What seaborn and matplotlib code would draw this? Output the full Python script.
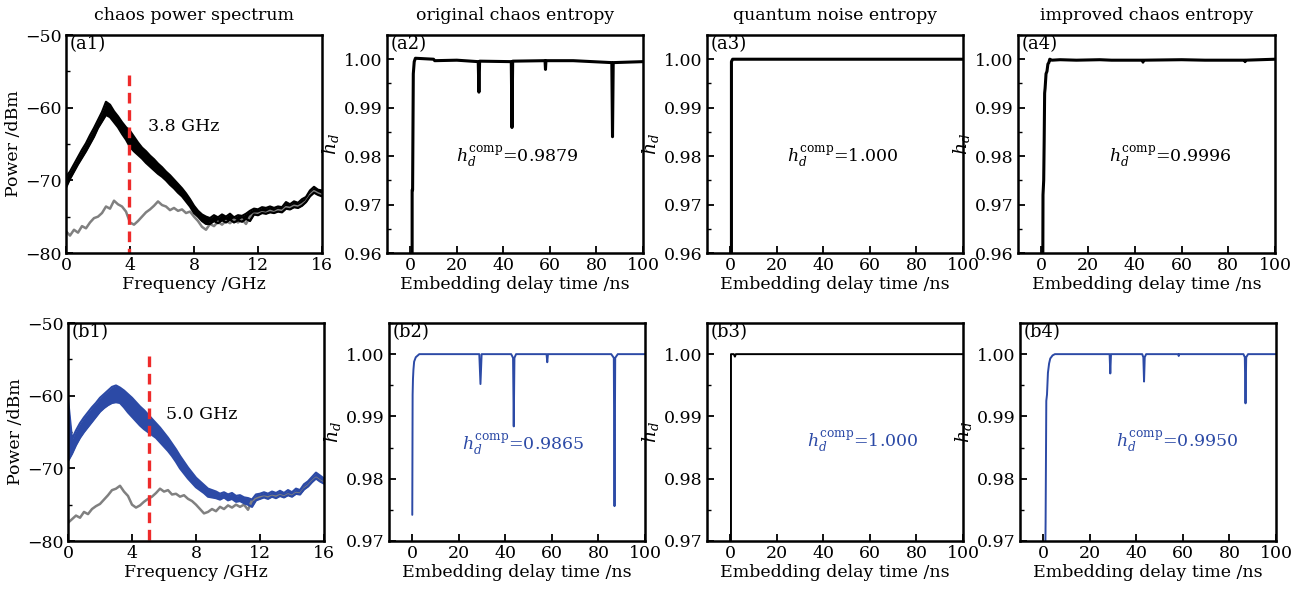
import numpy as np
import matplotlib
matplotlib.use("Agg")
import matplotlib.pyplot as plt
from matplotlib.ticker import MultipleLocator
import seaborn as sns

# ---------------- data ----------------
freq = [0, 0.25, 0.5, 0.75, 1.0, 1.25, 1.5, 1.75, 2.0, 2.25, 2.5, 2.75, 3.0, 3.25, 3.5, 3.75,
        4.0, 4.25, 4.5, 4.75, 5.0, 5.25, 5.5, 5.75, 6.0, 6.25, 6.5, 6.75, 7.0, 7.25, 7.5, 7.75,
        8.0, 8.25, 8.5, 8.75, 9.0, 9.25, 9.5, 9.75, 10.0, 10.25, 10.5, 10.75, 11.0, 11.25, 11.5, 11.75,
        12.0, 12.25, 12.5, 12.75, 13.0, 13.25, 13.5, 13.75, 14.0, 14.25, 14.5, 14.75, 15.0, 15.25, 15.5, 15.75, 16.0]

# (a1) original chaos spectrum: upper / lower envelope of the thick black trace
a1_upper = [-69.5, -68.8, -67.8, -66.8, -65.8, -64.9, -63.8, -62.8, -61.7, -60.6, -59.2, -59.6, -60.5, -61.2, -62.0, -62.7,
            -63.2, -64.0, -64.8, -65.5, -66.0, -66.6, -67.1, -67.7, -68.2, -68.8, -69.3, -69.9, -70.5, -71.1, -71.8, -72.6,
            -73.5, -74.2, -74.7, -75.0, -75.2, -74.8, -75.1, -74.7, -75.0, -74.6, -75.1, -74.8, -74.9, -74.6, -74.2, -73.9,
            -74.0, -73.7, -73.8, -73.6, -73.8, -73.6, -73.7, -73.0, -73.3, -72.9, -73.1, -72.6, -72.3, -71.4, -70.9, -71.3, -71.4]
a1_lower = [-71.0, -69.8, -68.8, -67.8, -66.9, -66.0, -65.0, -64.0, -62.8, -61.9, -61.0, -61.3, -62.0, -62.7, -63.6, -64.4,
            -65.4, -66.0, -66.5, -67.0, -67.6, -68.1, -68.6, -69.1, -69.5, -70.0, -70.6, -71.1, -71.7, -72.2, -72.9, -73.6,
            -74.5, -75.0, -75.6, -76.0, -76.0, -75.6, -75.9, -75.5, -75.8, -75.4, -75.8, -75.5, -75.7, -75.3, -75.6, -74.7,
            -74.8, -74.5, -74.6, -74.4, -74.5, -74.3, -74.4, -73.9, -74.0, -73.7, -73.8, -73.5, -73.0, -72.2, -71.7, -72.0, -72.2]
# (a1) noise-floor (grey) trace
a1_noise = [-77.0, -77.6, -76.8, -77.2, -76.3, -76.6, -75.8, -75.2, -75.0, -74.5, -73.6, -73.9, -72.8, -73.3, -73.6, -74.3,
            -75.8, -76.1, -75.6, -75.0, -74.4, -74.0, -73.5, -72.9, -73.4, -73.6, -74.1, -73.8, -74.2, -74.0, -74.5, -74.3,
            -75.0, -75.6, -76.4, -76.8, -76.0, -76.3, -75.7, -76.1, -75.6, -75.9, -75.4, -75.8, -75.4, -76.0, -75.0, -74.6,
            -74.6, -74.4, -74.5, -74.2, -74.4, -74.1, -74.2, -73.7, -73.8, -73.5, -73.6, -73.3, -72.9, -72.0, -71.5, -71.8, -72.0]

# (b1) improved chaos spectrum (blue band)
b1_upper = [-60.5, -66.0, -64.8, -63.8, -63.0, -62.3, -61.6, -61.0, -60.3, -59.8, -59.3, -58.8, -58.6, -58.9, -59.3, -59.8,
            -60.3, -60.9, -61.5, -62.0, -62.6, -63.2, -63.8, -64.4, -65.1, -65.8, -66.6, -67.4, -68.3, -69.1, -69.9, -70.6,
            -71.3, -71.8, -72.3, -72.8, -73.0, -73.2, -73.5, -73.3, -73.6, -73.4, -73.8, -73.7, -74.0, -74.1, -74.3, -73.6,
            -73.5, -73.3, -73.5, -73.2, -73.4, -73.1, -73.4, -73.0, -73.3, -72.8, -73.0, -72.2, -71.8, -71.2, -70.6, -71.0, -71.4]
b1_lower = [-69.0, -68.0, -66.8, -65.8, -65.0, -64.3, -63.6, -62.9, -62.2, -61.7, -61.3, -61.0, -60.9, -61.0, -61.6, -62.3,
            -62.9, -63.5, -64.1, -64.6, -65.0, -65.4, -65.8, -66.4, -67.0, -67.6, -68.3, -69.1, -70.0, -70.7, -71.4, -72.0,
            -72.6, -73.0, -73.4, -73.9, -74.0, -74.1, -74.3, -74.0, -74.4, -74.2, -74.6, -74.5, -74.8, -75.0, -75.3, -74.4,
            -74.2, -74.0, -74.2, -73.9, -74.1, -73.8, -74.0, -73.7, -73.9, -73.5, -73.6, -72.9, -72.5, -71.9, -71.4, -71.8, -72.1]
b1_noise = [-77.5, -77.0, -76.5, -76.8, -76.0, -76.3, -75.6, -75.2, -74.9, -74.3, -73.7, -73.0, -72.8, -72.4, -73.2, -73.8,
            -75.0, -75.4, -75.1, -74.6, -74.2, -73.9, -73.4, -72.8, -73.2, -73.0, -73.6, -73.5, -73.9, -73.7, -74.2, -74.5,
            -75.0, -75.6, -76.2, -76.0, -75.6, -75.9, -75.3, -75.6, -75.1, -75.4, -75.0, -75.3, -75.0, -75.7, -74.4, -74.2,
            -74.0, -73.9, -74.0, -73.8, -73.9, -73.7, -73.9, -73.6, -73.8, -73.4, -73.5, -72.8, -72.4, -71.8, -71.3, -71.7, -72.0]

bandwidth_a = 3.95   # dashed marker position (GHz)
bandwidth_b = 5.05
bandwidth_a_label = "3.8 GHz"
bandwidth_b_label = "5.0 GHz"

# permutation entropy vs embedding delay
a2_delay = [0.8, 0.8, 1.0, 1.3, 1.7, 2.2, 10, 10.5, 20, 29.2, 29.5, 29.8, 43.4, 43.7, 44.0,
            57.9, 58.1, 58.3, 70, 86.6, 86.9, 87.2, 100]
a2_hd = [0.955, 0.973, 0.973, 0.997, 0.9995, 1.0002, 1.0, 0.9997, 0.9998, 0.9995, 0.9932, 0.9996, 0.9995, 0.9859, 0.9996,
         0.9997, 0.9979, 0.9997, 0.9997, 0.9993, 0.9840, 0.9993, 0.9995]

a3_delay = [0.5, 0.5, 1.0, 100]
a3_hd = [0.955, 0.9995, 1.0, 1.0]

a4_delay = [0.6, 0.7, 1.0, 1.2, 1.4, 1.6, 2.0, 2.4, 2.8, 3.2, 3.6, 4.5, 8, 15, 25, 30, 43.3, 43.5, 43.7, 60, 70, 80, 87.0, 87.2, 87.4, 100]
a4_hd = [0.955, 0.972, 0.975, 0.983, 0.993, 0.994, 0.997, 0.9975, 0.999, 0.9993, 1.0, 0.9998, 0.9999, 0.9998, 0.9999, 0.9998,
         0.9998, 0.9994, 0.9998, 0.9999, 0.9998, 0.9998, 0.9998, 0.9995, 0.9998, 1.0]

b2_delay = [0.0, 0.15, 0.3, 0.5, 0.8, 1.5, 3.0, 28.8, 29.3, 29.8, 42.5, 43.3, 43.6, 43.9, 44.6,
            57.7, 58.0, 58.3, 85.5, 86.6, 86.9, 87.2, 88.3, 100]
b2_hd = [0.9742, 0.9935, 0.9960, 0.9975, 0.9988, 0.9995, 1.0, 1.0, 0.9952, 1.0, 1.0, 0.9994, 0.9884, 0.9994, 1.0,
         1.0, 0.9987, 1.0, 1.0, 0.9994, 0.9756, 0.9994, 1.0, 1.0]

b3_delay = [0.3, 0.3, 1.5, 2.0, 2.4, 100]
b3_hd = [0.965, 1.0, 1.0, 0.9996, 1.0, 1.0]

b4_delay = [0.8, 1.0, 1.3, 1.6, 2.0, 2.5, 3.0, 4.0, 5.0, 28.5, 28.8, 29.1, 42.5, 43.0, 43.3, 43.6, 44.2,
            58.0, 58.2, 58.4, 86.0, 86.6, 86.9, 87.2, 88.0, 100]
b4_hd = [0.965, 0.973, 0.9925, 0.9935, 0.997, 0.9985, 0.9993, 0.9998, 1.0, 1.0, 0.9969, 1.0, 1.0, 0.9995, 0.9956, 0.9995, 1.0,
         1.0, 0.9997, 1.0, 1.0, 0.9995, 0.9921, 0.9995, 1.0, 1.0]

titles = ["chaos power spectrum", "original chaos entropy", "quantum noise entropy", "improved chaos entropy"]
comp_values = ["0.9879", "1.000", "0.9996", "0.9865", "1.000", "0.9950"]

# ---------------- style ----------------
sns.set_style("ticks")
plt.rcParams["font.family"] = ["DejaVu Serif"]
plt.rcParams["mathtext.fontset"] = "dejavuserif"
plt.rcParams["axes.linewidth"] = 1.6
for k in ["axes.edgecolor", "text.color", "axes.labelcolor", "xtick.color", "ytick.color"]:
    plt.rcParams[k] = "black"
FS = 12.5

BLUE = "#2c4aa6"
GREY = "#808080"
RED = "#ee2a2a"
BLACK = "#000000"

W, H = 1300, 594
fig = plt.figure(figsize=(W / 100, H / 100), dpi=100)


def add_axes(l, r, t, b):
    return fig.add_axes([l / W, 1 - b / H, (r - l) / W, (b - t) / H])


pos_top = [(66, 322), (387, 643), (707, 963), (1018, 1275)]
pos_bot = [(68, 324), (389, 645), (707, 963), (1020, 1276)]
axes_top = [add_axes(l, r, 35, 253) for l, r in pos_top]
axes_bot = [add_axes(l, r, 323, 541) for l, r in pos_bot]


def style(ax, label):
    ax.tick_params(which="both", direction="in", labelsize=FS, top=False, right=False, colors="black")
    ax.tick_params(which="major", length=5, width=1.3, pad=3)
    ax.tick_params(which="minor", length=3, width=1.0)
    ax.text(0.015, 1.0, label, transform=ax.transAxes, ha="left", va="top", fontsize=FS + 0.5)
    for s in ax.spines.values():
        s.set_linewidth(1.8)
        s.set_color("black")
        s.set_visible(True)


def spectrum(ax, upper, lower, noise, color, xline, ytop, txt, txt_x, label):
    sns.lineplot(x=freq, y=noise, ax=ax, color=GREY, lw=1.8, estimator=None, sort=False)
    ax.fill_between(freq, lower, upper, color=color, lw=0)
    sns.lineplot(x=freq, y=upper, ax=ax, color=color, lw=1.6, estimator=None, sort=False)
    sns.lineplot(x=freq, y=lower, ax=ax, color=color, lw=1.6, estimator=None, sort=False)
    ax.plot([xline, xline], [ytop, -80], color=RED, lw=2.4, ls=(0, (3.2, 2.0)))
    ax.text(txt_x, -62.6, txt, fontsize=FS, ha="left", va="center")
    ax.set_xlim(0, 16)
    ax.set_ylim(-80, -50)
    ax.set_xticks([0, 4, 8, 12, 16])
    ax.set_yticks([-80, -70, -60, -50])
    ax.set_yticklabels(["\u221280", "\u221270", "\u221260", "\u221250"])
    ax.yaxis.set_minor_locator(MultipleLocator(5))
    ax.set_xlabel("Frequency /GHz", fontsize=FS, labelpad=1)
    ax.set_ylabel("Power /dBm", fontsize=FS, labelpad=2)
    style(ax, label)


def entropy(ax, d, h, color, lw, ymin, comp, cx, cy, tcolor, label):
    sns.lineplot(x=d, y=h, ax=ax, color=color, lw=lw, estimator=None, sort=False)
    ax.set_xlim(-10, 100)
    ax.set_ylim(ymin, 1.005)
    ax.set_xticks([0, 20, 40, 60, 80, 100])
    if ymin < 0.965:
        ax.set_yticks([0.96, 0.97, 0.98, 0.99, 1.00])
    else:
        ax.set_yticks([0.97, 0.98, 0.99, 1.00])
    ax.yaxis.set_major_formatter(matplotlib.ticker.FormatStrFormatter("%.2f"))
    ax.yaxis.set_minor_locator(MultipleLocator(0.005))
    ax.text(cx, cy, r"$h_d^{\rm comp}$=" + comp, fontsize=FS, ha="center", va="center", color=tcolor)
    ax.set_xlabel("Embedding delay time /ns", fontsize=FS, labelpad=1)
    ax.set_ylabel(r"$h_d$", fontsize=FS + 1, labelpad=2)
    style(ax, label)


spectrum(axes_top[0], a1_upper, a1_lower, a1_noise, BLACK, bandwidth_a, -55.5, bandwidth_a_label, 5.1, "(a1)")
spectrum(axes_bot[0], b1_upper, b1_lower, b1_noise, BLUE, bandwidth_b, -54.6, bandwidth_b_label, 6.1, "(b1)")

entropy(axes_top[1], a2_delay, a2_hd, BLACK, 2.2, 0.96, comp_values[0], 46, 0.980, BLACK, "(a2)")
entropy(axes_top[2], a3_delay, a3_hd, BLACK, 2.2, 0.96, comp_values[1], 48.5, 0.980, BLACK, "(a3)")
entropy(axes_top[3], a4_delay, a4_hd, BLACK, 2.2, 0.96, comp_values[2], 55, 0.980, BLACK, "(a4)")
entropy(axes_bot[1], b2_delay, b2_hd, BLUE, 1.4, 0.97, comp_values[3], 47.7, 0.9855, BLUE, "(b2)")
entropy(axes_bot[2], b3_delay, b3_hd, BLACK, 1.4, 0.97, comp_values[4], 57, 0.9860, BLUE, "(b3)")
entropy(axes_bot[3], b4_delay, b4_hd, BLUE, 1.4, 0.97, comp_values[5], 57.6, 0.9860, BLUE, "(b4)")

for (l, r), t in zip(pos_top, titles):
    fig.text((l + r) / 2 / W, 1 - 15 / H, t, ha="center", va="center", fontsize=FS)

fig.savefig("out.png", dpi=100)
